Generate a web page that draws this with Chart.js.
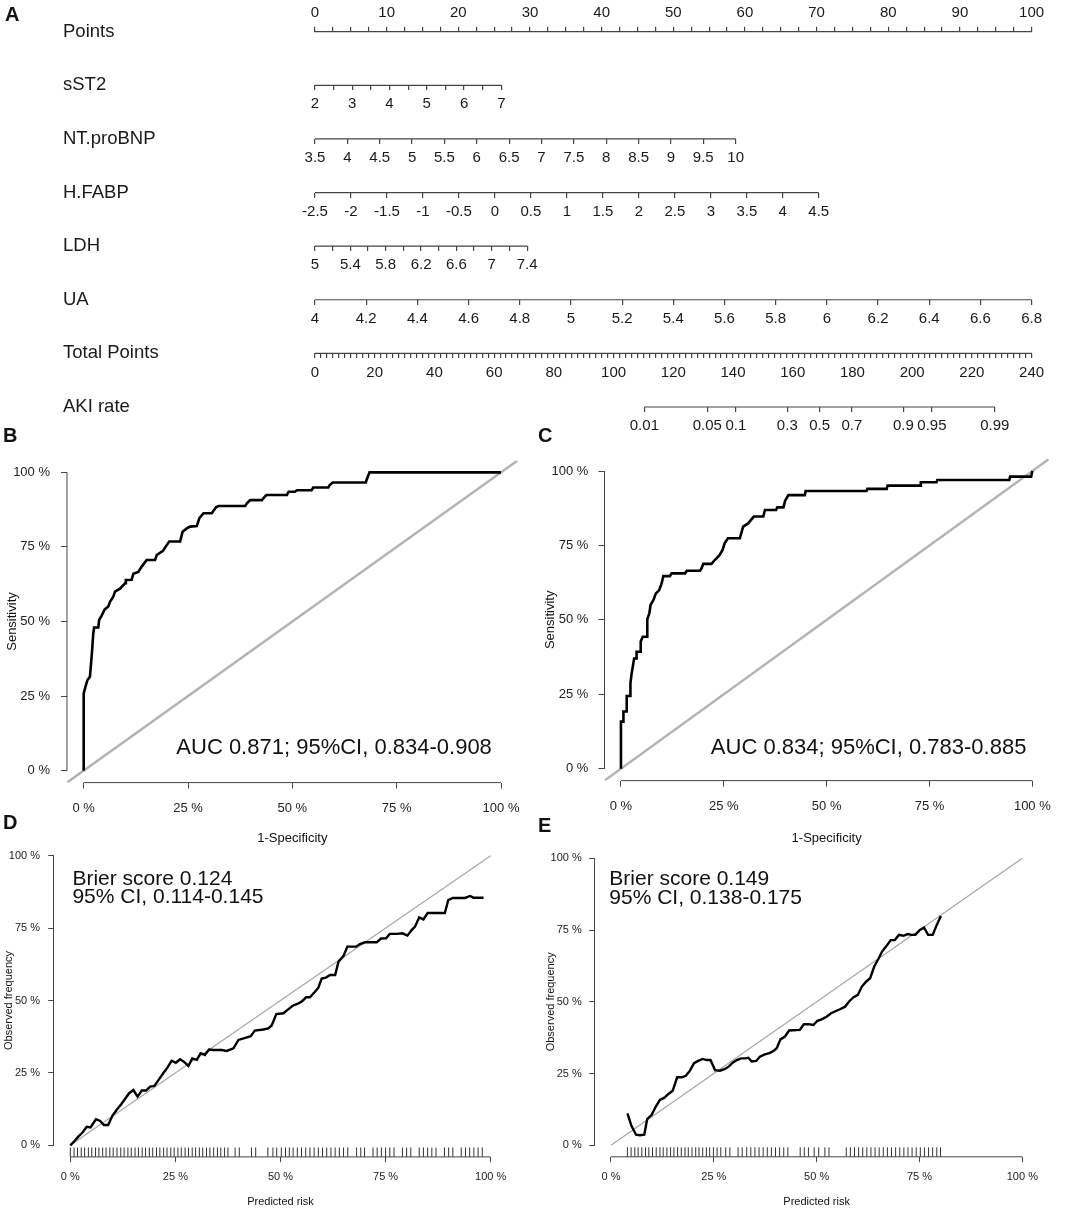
<!DOCTYPE html>
<html>
<head>
<meta charset="utf-8">
<script src="https://cdn.jsdelivr.net/npm/chart.js@4.4.1/dist/chart.umd.min.js"></script>
<style>
  body { margin: 0; background: #fff; }
  #fig { position: relative; width: 1067px; height: 1209px; font-family: 'Liberation Sans', Arial, sans-serif; }
  #fig canvas { position: absolute; }
  .tag { position: absolute; font-weight: bold; font-size: 20px; line-height: 20px; color: #111; }
</style>
</head>
<body>
<div id="fig">
  <canvas id="nomo" width="1067" height="445" style="left:0px;top:0px"></canvas>
  <canvas id="rocB" width="533" height="400" style="left:0px;top:450px"></canvas>
  <canvas id="rocC" width="534" height="400" style="left:533px;top:450px"></canvas>
  <canvas id="calD" width="533" height="369" style="left:0px;top:840px"></canvas>
  <canvas id="calE" width="534" height="369" style="left:533px;top:840px"></canvas>
  <div class="tag" style="left:5px;top:4px">A</div>
  <div class="tag" style="left:3px;top:425px">B</div>
  <div class="tag" style="left:538px;top:425px">C</div>
  <div class="tag" style="left:3px;top:812px">D</div>
  <div class="tag" style="left:538px;top:815px">E</div>
</div>
<script>
Chart.defaults.font.family = "'Liberation Sans', Arial, sans-serif";
Chart.defaults.color = '#1a1a1a';
Chart.defaults.animation = false;

// ---------- nomogram (A) ----------
const rowNames = ['Points', 'sST2', 'NT.proBNP', 'H.FABP', 'LDH', 'UA', 'Total Points', 'AKI rate'];
const pointsLabels = [0, 10, 20, 30, 40, 50, 60, 70, 80, 90, 100];
const sst2Ticks = [2, 2.5, 3, 3.5, 4, 4.5, 5, 5.5, 6, 6.5, 7];
const sst2Labels = [2, 3, 4, 5, 6, 7];
const ntprobnpTicks = [3.5, 4, 4.5, 5, 5.5, 6, 6.5, 7, 7.5, 8, 8.5, 9, 9.5, 10];
const hfabpTicks = [-2.5, -2, -1.5, -1, -0.5, 0, 0.5, 1, 1.5, 2, 2.5, 3, 3.5, 4, 4.5];
const ldhTicks = [5, 5.2, 5.4, 5.6, 5.8, 6, 6.2, 6.4, 6.6, 6.8, 7, 7.2, 7.4];
const ldhLabels = [5, 5.4, 5.8, 6.2, 6.6, 7, 7.4];
const uaTicks = [4, 4.2, 4.4, 4.6, 4.8, 5, 5.2, 5.4, 5.6, 5.8, 6, 6.2, 6.4, 6.6, 6.8];
// points reached at the top of each predictor's range
const sst2MaxPoints = 26;
const ntprobnpMaxPoints = 58.7;
const hfabpMaxPoints = 70.3;
const ldhMaxPoints = 29.6;
const uaMaxPoints = 100;
const totalPointsLabels = [0, 20, 40, 60, 80, 100, 120, 140, 160, 180, 200, 220, 240];
const akiRateTicks = [0.01, 0.05, 0.1, 0.3, 0.5, 0.7, 0.9, 0.95, 0.99];
const akiMidPoints = 169;   // total points where AKI rate = 0.5
const akiSlope = 0.0783;    // logit change per total point

// ---------- ROC (B, C) ----------
const rocTrain = [[0,0],[0,25.9],[0.4,28],[0.9,30.4],[1.5,31.5],[1.7,34.9],[2,40],[2.3,46],[2.5,48],[3.5,48],[3.7,50.5],[4.3,52],[5,54],[5.9,55],[6.3,56.6],[7.1,58.3],[7.5,60],[8.7,61],[9.9,62.8],[10.1,63.9],[11.5,64],[11.9,66],[13.1,66.6],[13.9,68.4],[15.1,70.6],[17.1,70.6],[17.5,72.3],[19,73.7],[19.9,75.6],[20.5,76.8],[23.1,76.8],[23.7,80.1],[24.7,81.2],[25.5,81.8],[27.1,82],[27.7,84.6],[28.7,86.3],[30.7,86.3],[31.7,88.3],[32.3,88.7],[38.7,88.7],[39.1,89.6],[39.9,90.7],[42.7,90.7],[43.5,92],[43.8,92.4],[48.7,92.4],[49.1,93.5],[50.6,93.5],[51.1,94],[54.6,94],[55,94.9],[58.6,94.9],[59,95.8],[59.7,96.6],[67.6,96.6],[67.8,97.5],[68.5,100],[100,100]];
const rocValid = [[0,0],[0,15.8],[0.6,15.8],[0.6,19.2],[1.4,19.2],[1.4,24.4],[2.2,24.4],[2.3,28.7],[2.6,32],[3.2,37],[3.8,37],[3.8,39.3],[4.8,39.3],[4.8,42.7],[5.3,44.3],[6.4,44.3],[6.4,50.2],[6.9,52.2],[7.2,55],[7.9,56.7],[8.5,58.9],[9.3,60],[9.9,62.3],[10.3,64.7],[11.9,64.7],[12.3,65.6],[15.6,65.6],[16,66.5],[19.2,66.5],[19.6,67.3],[20,68.8],[22,68.8],[22.8,70.1],[24,71.8],[24.7,73.5],[25.2,75.7],[26,77.4],[28.9,77.4],[29.7,81.3],[30.9,82.4],[32.3,84.7],[34.6,84.7],[35,86.9],[37.7,86.9],[38,87.8],[39.5,87.8],[39.9,90],[40.7,91.9],[44.7,91.9],[44.9,93.3],[59.7,93.3],[59.9,94],[64.6,94],[64.8,95.1],[72.7,95.1],[72.9,96.2],[76.7,96.2],[76.9,97],[94.4,97],[94.6,98.1],[99.7,98.1],[100,100]];

// ---------- calibration (D, E) ----------
const calTrain = [[0,0],[0.9,1.3],[1.9,3],[2.9,4.4],[3.9,6.4],[4.8,6.2],[6.1,9],[7.1,8.4],[8,7],[9,7],[10,10.2],[11,12.2],[12.1,14.2],[13,16],[14,18],[15,19.1],[16,16.8],[17,18.9],[18,18.9],[19,20.3],[20,20.5],[21,22.6],[22.1,24.9],[23.1,26.8],[24.1,29.2],[25.1,28.5],[26.1,29.7],[27,28.9],[28.1,27.4],[29,30],[30.1,29.5],[31,31.8],[32,31.2],[33,33.1],[34,32.9],[36,32.9],[37.2,32.6],[38.8,33.5],[40,36.4],[42,37.3],[42.9,37.7],[43.9,39.6],[45.9,40],[47.1,40.4],[47.9,41.4],[49,45.3],[50.7,45.6],[51.9,47],[52.9,48.2],[54,48.8],[55,49.6],[56.1,51.1],[57,51.1],[58.2,53],[59,54.4],[59.8,57.6],[60.8,57.9],[61.8,58.8],[63,58.8],[63.8,63.4],[65,65.4],[65.9,68.6],[68,68.6],[68.9,69.5],[70.1,70.1],[72.9,70.1],[73.9,71.4],[75.1,71.5],[76,73],[77.6,73],[79,73.2],[80.2,72.4],[81.2,74.3],[82,75.5],[83,78.7],[84,78],[85,80.2],[86.8,80.2],[89.1,80.2],[89.9,84.7],[91,85.4],[93.9,85.4],[95.1,86.1],[95.9,85.5],[98.3,85.5]];
const calValid = [[4,11.1],[5,6.7],[6.1,3.7],[7,3.5],[8.1,3.7],[8.8,9.1],[9.9,10.6],[10.9,13.5],[11.9,15.8],[13,16.6],[13.9,17.8],[15,19],[16.1,23.7],[17.2,23.7],[18.2,24.2],[19.2,26],[20.2,28.6],[21.2,29.4],[22.3,30.1],[23.3,29.7],[24.2,29.7],[25.3,26.2],[26.5,26],[27.6,26.5],[28.6,27.4],[29.6,28.8],[30.6,29.7],[31.6,30.3],[32.6,30.3],[33.4,30.5],[34.2,29.2],[35.3,29.4],[36.2,30.9],[37.4,31.7],[38.5,32.1],[39.5,32.9],[40.3,33.8],[41.2,36.9],[42.3,37.9],[43.3,40],[45.9,40.2],[46.9,42.2],[48,42.2],[49.2,41.9],[50.2,43.4],[51.2,43.9],[52.4,44.8],[53.5,46],[54.7,46.8],[55.8,47.5],[56.9,48.3],[57.9,50.1],[58.9,51.5],[60,52.4],[61,55.3],[62,57],[63,58.2],[64,62.3],[65,64.9],[65.9,67.5],[67,69.5],[68,71.5],[69,71.5],[70,73.3],[71.1,73],[72.1,73.6],[73.1,73.3],[74,73.3],[75.1,75],[76.1,75.8],[77.1,73.3],[78.2,73.3],[79.2,76.8],[80.2,79.9]];
const rugTrain = [0,0.9,1.7,2.6,3.4,4.3,5.1,6,6.8,7.7,8.5,9.4,10.2,11.1,12,12.8,13.7,14.5,15.4,16.2,17.1,17.9,18.8,19.6,20.5,21.3,22.2,23,23.9,24.7,25.6,26.4,27.3,28.1,29,29.8,30.7,31.5,32.4,33.2,34.1,35,35.8,36.7,37.5,39.2,40.2,43.1,44.1,47,48.2,49.1,50.2,51.2,52.1,53,54,55,56,57,58,59,60,61,62,63,64,65,66,68.1,69.1,70,72,73,74,75,76,77,79,80,81,83,84,85,86,87,89,90,91,93,94,95,96,97,98];
const rugValid = [4,4.9,5.8,6.6,7.5,8.4,9.2,10.1,11,11.9,12.7,13.6,14.5,15.3,16.2,17.1,18,18.8,19.7,20.6,21.4,22.3,23.2,24,24.9,25.8,26.7,27.9,28.9,30.9,31.9,33,34,35,36,37,38,39,40,41,42,43,46,47,48,49.4,50.5,52,53,57.2,58.2,59.2,60.2,61.2,62.2,63.2,64.2,65.2,66.2,67.2,68.2,69.2,70.2,71.2,72.2,73.2,74.2,75.2,76.2,77.2,78.2,79.2,80.1];
const pctTicks = [0, 25, 50, 75, 100];

const axisColor = '#444';

// ===== nomogram chart =====
const akiPoints = p => akiMidPoints + Math.log(p / (1 - p)) / akiSlope;

const nomoRows = [
  { id: 'sST2', row: 1, ticks: sst2Ticks, labels: sst2Labels, maxPts: sst2MaxPoints },
  { id: 'NTproBNP', row: 2, ticks: ntprobnpTicks, labels: ntprobnpTicks, maxPts: ntprobnpMaxPoints },
  { id: 'HFABP', row: 3, ticks: hfabpTicks, labels: hfabpTicks, maxPts: hfabpMaxPoints },
  { id: 'LDH', row: 4, ticks: ldhTicks, labels: ldhLabels, maxPts: ldhMaxPoints },
  { id: 'UA', row: 5, ticks: uaTicks, labels: uaTicks, maxPts: uaMaxPoints }
];

const pointsTicks = [];
for (let i = 0; i <= 40; i++) pointsTicks.push(i * 2.5);
const totalTicks = [];
for (let i = 0; i <= 120; i++) totalTicks.push(i * 2);

const nomoGrid = { drawOnChartArea: false, drawTicks: true, tickLength: 5, color: axisColor, lineWidth: 1.2 };
const nomoTickFont = { size: 15 };

const nomoScales = {
  y: {
    type: 'linear', position: 'left', min: 0, max: 7, reverse: true,
    afterFit: s => { s.width = 252; s.paddingTop = 0; s.paddingBottom = 0; },
    afterBuildTicks: s => { s.ticks = rowNames.map((_, i) => ({ value: i })); },
    grid: { display: false }, border: { display: false },
    ticks: { autoSkip: false, crossAlign: 'far', padding: 0, font: { size: 18.5 }, color: '#1a1a1a',
             callback: v => rowNames[v] }
  },
  x: {
    type: 'linear', position: 'top', min: 0, max: 100,
    afterFit: s => { s.height = 31.7; },
    afterBuildTicks: s => { s.ticks = pointsTicks.map(v => ({ value: v })); },
    grid: nomoGrid,
    border: { display: true, color: axisColor, width: 1.2 },
    ticks: { autoSkip: false, maxRotation: 0, padding: 5, font: nomoTickFont,
             callback: v => pointsLabels.includes(v) ? String(v) : '' }
  },
  tp: {
    type: 'linear', axis: 'x', position: { y: 6 }, min: 0, max: 240,
    afterBuildTicks: s => { s.ticks = totalTicks.map(v => ({ value: v })); },
    grid: nomoGrid, border: { display: false },
    ticks: { autoSkip: false, maxRotation: 0, padding: 5, font: nomoTickFont,
             callback: v => totalPointsLabels.includes(v) ? String(v) : '' }
  },
  aki: {
    type: 'linear', axis: 'x', position: { y: 7 }, min: 0, max: 240,
    afterBuildTicks: s => { s.ticks = akiRateTicks.map(p => ({ value: akiPoints(p) })); },
    grid: nomoGrid, border: { display: false },
    ticks: { autoSkip: false, maxRotation: 0, padding: 5, font: nomoTickFont,
             callback: (v, i) => String(akiRateTicks[i]) }
  }
};

const lineStyle = { borderColor: axisColor, borderWidth: 1.2, pointRadius: 0, tension: 0, clip: false };
const nomoDatasets = [];

nomoRows.forEach(r => {
  const lo = r.ticks[0], hi = r.ticks[r.ticks.length - 1];
  nomoScales[r.id] = {
    type: 'linear', axis: 'x', position: { y: r.row },
    min: lo, max: lo + (hi - lo) * 100 / r.maxPts,
    afterBuildTicks: s => { s.ticks = r.ticks.map(v => ({ value: v })); },
    grid: nomoGrid, border: { display: false },
    ticks: { autoSkip: false, maxRotation: 0, padding: 5, font: nomoTickFont,
             callback: v => r.labels.includes(v) ? String(v) : '' }
  };
  nomoDatasets.push({ ...lineStyle, xAxisID: r.id, yAxisID: 'y',
    data: [{ x: lo, y: r.row }, { x: hi, y: r.row }] });
});
nomoDatasets.push({ ...lineStyle, xAxisID: 'tp', yAxisID: 'y',
  data: [{ x: totalTicks[0], y: 6 }, { x: totalTicks[totalTicks.length - 1], y: 6 }] });
nomoDatasets.push({ ...lineStyle, xAxisID: 'aki', yAxisID: 'y',
  data: [{ x: akiPoints(akiRateTicks[0]), y: 7 }, { x: akiPoints(akiRateTicks[akiRateTicks.length - 1]), y: 7 }] });

new Chart(document.getElementById('nomo'), {
  type: 'line',
  data: { datasets: nomoDatasets },
  options: {
    responsive: false,
    layout: { padding: { left: 63, right: 35.4, top: 0, bottom: 38 } },
    plugins: { legend: { display: false }, tooltip: { enabled: false } },
    scales: nomoScales
  }
});

// ===== ROC / calibration panels =====
// R draws its axis line only from the first to the last tick
const rAxis = {
  id: 'rAxis',
  afterDraw(chart) {
    const { ctx, chartArea } = chart;
    const xs = chart.scales.x, ys = chart.scales.y;
    ctx.save();
    ctx.strokeStyle = axisColor;
    ctx.lineWidth = 1;
    ctx.beginPath();
    ctx.moveTo(xs.getPixelForValue(xs.ticks[0].value), chartArea.bottom);
    ctx.lineTo(xs.getPixelForValue(xs.ticks[xs.ticks.length - 1].value), chartArea.bottom);
    ctx.moveTo(chartArea.left, ys.getPixelForValue(ys.ticks[0].value));
    ctx.lineTo(chartArea.left, ys.getPixelForValue(ys.ticks[ys.ticks.length - 1].value));
    ctx.stroke();
    ctx.restore();
  }
};

const notes = {
  id: 'notes',
  afterDatasetsDraw(chart, args, opts) {
    if (!opts.items) return;
    const { ctx } = chart;
    const xs = chart.scales.x, ys = chart.scales.y;
    ctx.save();
    opts.items.forEach(it => {
      ctx.font = it.size + "px 'Liberation Sans', Arial, sans-serif";
      ctx.fillStyle = '#111';
      ctx.textAlign = it.align;
      ctx.textBaseline = 'middle';
      const px = xs.getPixelForValue(it.x), py = ys.getPixelForValue(it.y);
      it.lines.forEach((line, i) => ctx.fillText(line, px, py + i * (it.gap || 0)));
    });
    ctx.restore();
  }
};

function panel(id, c) {
  const datasets = [
    { data: c.curve.map(p => ({ x: p[0], y: p[1] })), borderColor: '#000', borderWidth: c.curveWidth,
      pointRadius: 0, tension: 0, order: 0 },
    { data: c.ref.map(v => ({ x: v, y: v })), borderColor: c.refColor, borderWidth: c.refWidth,
      pointRadius: 0, tension: 0, order: 2 }
  ];
  if (c.rug) {
    const pts = [];
    c.rug.forEach(v => { pts.push({ x: v, y: -4 }, { x: v, y: -4 + c.rugLen }, { x: v, y: null }); });
    datasets.push({ data: pts, borderColor: '#333', borderWidth: 1, pointRadius: 0, spanGaps: false,
      clip: false, order: 1 });
  }
  new Chart(document.getElementById(id), {
    type: 'line',
    data: { datasets },
    options: {
      responsive: false,
      layout: { padding: c.pad },
      plugins: { legend: { display: false }, tooltip: { enabled: false }, notes: { items: c.notes } },
      scales: {
        x: {
          type: 'linear', position: 'bottom', min: -4, max: 104,
          afterFit: s => { s.height = c.xHeight; s.paddingLeft = 0; s.paddingRight = 0; },
          afterBuildTicks: s => { s.ticks = pctTicks.map(v => ({ value: v })); },
          grid: { drawOnChartArea: false, tickLength: c.tl, color: axisColor },
          border: { display: false },
          ticks: { autoSkip: false, maxRotation: 0, padding: c.xPad, font: { size: c.tickSize }, color: '#222',
                   callback: v => v + ' %' },
          title: { display: true, text: c.xTitle, font: { size: c.titleSize }, color: '#111', padding: { top: 0, bottom: 0 } }
        },
        y: {
          type: 'linear', position: 'left', min: -4, max: 104,
          afterFit: s => { s.width = c.yWidth; s.paddingTop = 0; s.paddingBottom = 0; },
          afterBuildTicks: s => { s.ticks = pctTicks.map(v => ({ value: v })); },
          grid: { drawOnChartArea: false, tickLength: c.tl, color: axisColor },
          border: { display: false },
          ticks: { autoSkip: false, padding: c.yPad, font: { size: c.tickSize }, color: '#222',
                   callback: v => v + ' %' },
          title: { display: true, text: c.yTitle, font: { size: c.titleSize }, color: '#111', padding: { top: c.yTitlePad, bottom: 0 } }
        }
      }
    },
    plugins: [rAxis, notes]
  });
}

const rocRef = [-4, 104];
const calRef = [0, 100];

panel('rocB', {
  curve: rocTrain, ref: rocRef, refColor: '#b3b3b3', refWidth: 2.4, curveWidth: 2.6,
  pad: { left: 0, top: 10.4, right: 15.3, bottom: 4.2 }, yWidth: 67, xHeight: 63.2,
  tl: 6, xPad: 11.6, yPad: 11, tickSize: 13, titleSize: 13, yTitlePad: 4.9,
  xTitle: '1-Specificity', yTitle: 'Sensitivity',
  notes: [{ x: 60, y: 7.5, size: 22, align: 'center', lines: ['AUC 0.871; 95%CI, 0.834-0.908'] }]
});

panel('rocC', {
  curve: rocValid, ref: rocRef, refColor: '#b3b3b3', refWidth: 2.4, curveWidth: 2.6,
  pad: { left: 0, top: 9.1, right: 18.2, bottom: 4.2 }, yWidth: 71.5, xHeight: 65.2,
  tl: 6, xPad: 12.3, yPad: 10.2, tickSize: 13, titleSize: 13, yTitlePad: 9.9,
  xTitle: '1-Specificity', yTitle: 'Sensitivity',
  notes: [{ x: 60.2, y: 6.9, size: 22, align: 'center', lines: ['AUC 0.834; 95%CI, 0.783-0.885'] }]
});

panel('calD', {
  curve: calTrain, ref: calRef, refColor: '#a8a8a8', refWidth: 1.3, curveWidth: 2.4,
  rug: rugTrain, rugLen: 3.25,
  pad: { left: 0, top: 4.1, right: 25.5, bottom: 0.7 }, yWidth: 53.5, xHeight: 51.4,
  tl: 5.3, xPad: 8.5, yPad: 8.2, tickSize: 11, titleSize: 11, yTitlePad: 2.7,
  xTitle: 'Predicted risk', yTitle: 'Observed frequency',
  notes: [{ x: 0.5, y: 92, size: 21, align: 'left', gap: 18.5, lines: ['Brier score 0.124', '95% CI, 0.114-0.145'] }]
});

panel('calE', {
  curve: calValid, ref: calRef, refColor: '#a8a8a8', refWidth: 1.3, curveWidth: 2.4,
  rug: rugValid, rugLen: 3.3,
  pad: { left: 0, top: 6.8, right: 28.2, bottom: 0.7 }, yWidth: 61.5, xHeight: 51.5,
  tl: 5.3, xPad: 8.5, yPad: 7.5, tickSize: 11, titleSize: 11, yTitlePad: 11.1,
  xTitle: 'Predicted risk', yTitle: 'Observed frequency',
  notes: [{ x: -0.4, y: 92.7, size: 21, align: 'left', gap: 18.5, lines: ['Brier score 0.149', '95% CI, 0.138-0.175'] }]
});
</script>
</body>
</html>
